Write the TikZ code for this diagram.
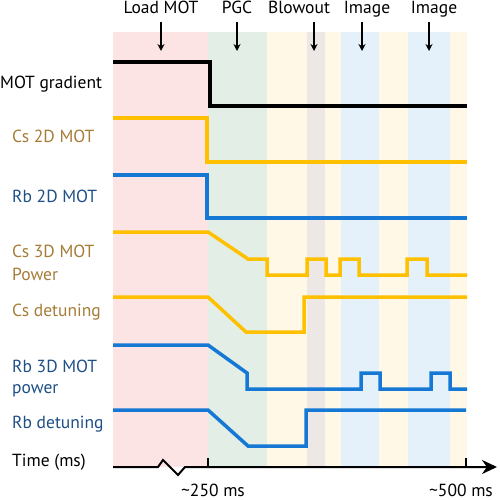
\documentclass[tikz,border=0pt]{standalone}
\usepackage{fontspec}
\setmainfont{PT Sans}
\usetikzlibrary{arrows.meta}
\definecolor{bpink}{HTML}{FCE4E4}
\definecolor{bgreen}{HTML}{E3EEE7}
\definecolor{byellow}{HTML}{FFF8E6}
\definecolor{bgrey}{HTML}{EDE7E5}
\definecolor{bblue}{HTML}{E4F1FA}
\definecolor{csline}{HTML}{FFC000}
\definecolor{rbline}{HTML}{1478D4}
\definecolor{cstext}{HTML}{A57C38}
\definecolor{rbtext}{HTML}{1E4F86}
\tikzset{
  lbl/.style={font=\fontsize{17.5}{22}\selectfont, inner sep=0pt, anchor=base west, align=left},
  toplbl/.style={font=\fontsize{17.5}{22}\selectfont, inner sep=0pt, anchor=base},
  blk/.style={line width=4pt, black, line join=miter},
  cs/.style={line width=3.5pt, csline, line join=miter},
  rb/.style={line width=3.5pt, rbline, line join=miter},
  marker/.style={line width=1.4pt, -{Stealth[length=7pt,width=7pt]}},
}
\begin{document}
\begin{tikzpicture}[x=1pt,y=-1pt]
\useasboundingbox (0,0) rectangle (499,500);
% bands
\fill[bpink]   (113,32) rectangle (208,467);
\fill[bgreen]  (208,32) rectangle (267,467);
\fill[byellow] (267,32) rectangle (307,467);
\fill[bgrey]   (307,32) rectangle (325,467);
\fill[byellow] (325,32) rectangle (341,467);
\fill[bblue]   (341,32) rectangle (379,467);
\fill[byellow] (379,32) rectangle (408,467);
\fill[bblue]   (408,32) rectangle (450,467);
\fill[byellow] (450,32) rectangle (467,467);
% top labels
\node[toplbl] (tload) at (161,14) {Load MOT};
\node[toplbl] (tpgc) at (237,14) {PGC};
\node[toplbl] (tblow) at (299,14) {Blowout};
\node[toplbl] (timg1) at (367,14) {Image};
\node[toplbl] (timg2) at (434,14) {Image};
\coordinate (a1s) at (161,22); \coordinate (a1e) at (161,51);
\coordinate (a2s) at (237,22); \coordinate (a2e) at (237,51);
\coordinate (a3s) at (314,22); \coordinate (a3e) at (314,51);
\coordinate (a4s) at (362,22); \coordinate (a4e) at (362,51);
\coordinate (a5s) at (429,22); \coordinate (a5e) at (429,51);
\draw[marker] (a1s) -- (a1e);
\draw[marker] (a2s) -- (a2e);
\draw[marker] (a3s) -- (a3e);
\draw[marker] (a4s) -- (a4e);
\draw[marker] (a5s) -- (a5e);
% left labels
\node[lbl] (lgrad) at (0,89) {MOT gradient};
\node[lbl, text=cstext] (lcs2) at (12,142) {Cs 2D MOT};
\node[lbl, text=rbtext] (lrb2) at (12,202) {Rb 2D MOT};
\node[lbl, text=cstext] (lcs3) at (12,257) {Cs 3D MOT};
\node[lbl, text=cstext] (lcs3b) at (12,280) {Power};
\node[lbl, text=cstext] (lcsd) at (12,316) {Cs detuning};
\node[lbl, text=rbtext] (lrb3) at (12,372) {Rb 3D MOT};
\node[lbl, text=rbtext] (lrb3b) at (12,393) {power};
\node[lbl, text=rbtext] (lrbd) at (12,428) {Rb detuning};
\node[lbl] (ltime) at (12,466) {Time (ms)};
% traces
\draw[blk] (113,62) -- (210,62) -- (210,106) -- (467,106);
\draw[cs] (113,118) -- (207,118) -- (207,162) -- (467,162);
\draw[rb] (113,175) -- (207,175) -- (207,218) -- (467,218);
\draw[cs] (113,232) -- (208,232) -- (248,259) -- (267,259) -- (267,275) -- (307,275) -- (307,259)
  -- (326,259) -- (326,275) -- (340,275) -- (340,259) -- (359,259) -- (359,275) -- (407,275)
  -- (407,259) -- (427,259) -- (427,275) -- (467,275);
\draw[cs] (113,297) -- (208,297) -- (246,332) -- (304,332) -- (304,297) -- (467,297);
\draw[rb] (113,345) -- (208,345) -- (247,373) -- (247,389) -- (361,389) -- (361,373) -- (380,373)
  -- (380,389) -- (431,389) -- (431,373) -- (450,373) -- (450,389) -- (467,389);
\draw[rb] (113,410) -- (208,410) -- (248,446) -- (306,446) -- (306,410) -- (466,410);
% axis
\coordinate (ax0) at (113,467);
\coordinate (ax1) at (497,467);
\draw[line width=2pt, line join=miter, -{Stealth[length=15pt,width=14pt]}]
  (ax0) -- (158,467) -- (163,460) -- (178,475) -- (185,467) -- (ax1);
\draw[line width=2pt] (208,458) -- (208,467);
\draw[line width=2pt] (466,458) -- (466,467);
\node[toplbl] (t250) at (213,496) {\textasciitilde250 ms};
\node[toplbl] (t500) at (461,496) {\textasciitilde500 ms};
\end{tikzpicture}
\end{document}
